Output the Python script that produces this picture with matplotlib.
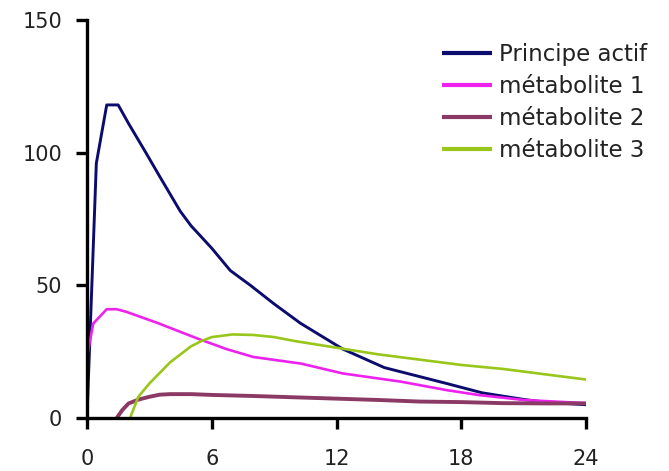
import matplotlib
matplotlib.use("Agg")
import matplotlib.pyplot as plt

# Concentration curves (time in hours, concentration)
t_principe = [0, 0.45, 0.95, 1.5, 2.0, 2.87, 3.5, 4.48, 5.0, 6.0, 6.89, 7.86, 9.0, 10.27, 12.3, 14.3, 17.3, 19.0, 21.0, 22.0, 24.0]
c_principe = [0, 96, 118, 118, 111, 99.5, 91, 78, 72.5, 64, 55.6, 50, 43, 35.7, 26, 19, 13, 9.5, 7, 6, 5]

t_met1 = [0, 0.3, 0.95, 1.43, 1.9, 3.4, 5.3, 6.7, 8.0, 10.3, 12.3, 15.1, 17.3, 18.9, 21.0, 24.0]
c_met1 = [23, 35.6, 41, 41, 40, 35.8, 30, 26, 23, 20.5, 16.8, 13.7, 10.5, 8.6, 6.8, 5.6]

t_met2 = [1.43, 1.7, 2.0, 2.5, 3.0, 3.5, 4.0, 5.0, 6.0, 8.0, 10.0, 12.0, 14.0, 16.0, 18.0, 20.0, 22.0, 24.0]
c_met2 = [0, 3, 5.5, 7, 8, 8.8, 9, 9, 8.7, 8.3, 7.8, 7.3, 6.8, 6.2, 6.0, 5.6, 5.5, 5.5]

t_met3 = [2.07, 2.47, 3.0, 3.5, 4.0, 4.5, 5.0, 5.5, 6.0, 7.0, 8.0, 9.0, 10.0, 12.0, 14.0, 16.0, 18.0, 20.0, 22.0, 24.0]
c_met3 = [0, 8, 13, 17, 21, 24, 27, 29, 30.5, 31.5, 31.3, 30.5, 29, 26.5, 24, 22, 20, 18.5, 16.5, 14.5]

labels = ["Principe actif", "métabolite 1", "métabolite 2", "métabolite 3"]
colors = ["#0c0c6e", "#ee22ee", "#8b3a66", "#99c61a"]
widths = [2.1, 1.9, 2.8, 1.9]

x_ticks = [0, 6, 12, 18, 24]
y_ticks = [0, 50, 100, 150]

fig = plt.figure(figsize=(6.69, 4.71), dpi=100)
ax = fig.add_axes([0.130, 0.1125, 0.746, 0.845])

series = [(t_principe, c_principe), (t_met1, c_met1), (t_met2, c_met2), (t_met3, c_met3)]
for (t, c), lab, col, lw in zip(series, labels, colors, widths):
    ax.plot(t, c, color=col, lw=lw, label=lab, solid_capstyle="butt")

ax.set_xlim(0, 24)
ax.set_ylim(0, 150)
ax.set_xticks(x_ticks)
ax.set_yticks(y_ticks)

for side in ("top", "right"):
    ax.spines[side].set_visible(False)
for side in ("left", "bottom"):
    ax.spines[side].set_linewidth(2.4)
    ax.spines[side].set_color("black")

ax.tick_params(axis="both", direction="out", length=8, width=2.4, colors="black",
               labelsize=15, labelcolor="#222222")
ax.tick_params(axis="x", pad=14)
ax.tick_params(axis="y", pad=10)

leg = ax.legend(loc="upper left", bbox_to_anchor=(0.693, 0.966), frameon=False,
                fontsize=16.5, handlelength=2.2, handletextpad=0.3,
                labelspacing=0.40, borderaxespad=0)
for line in leg.get_lines():
    line.set_linewidth(3)
for txt in leg.get_texts():
    txt.set_color("#222222")

fig.savefig("out.png", dpi=100, facecolor="white")
